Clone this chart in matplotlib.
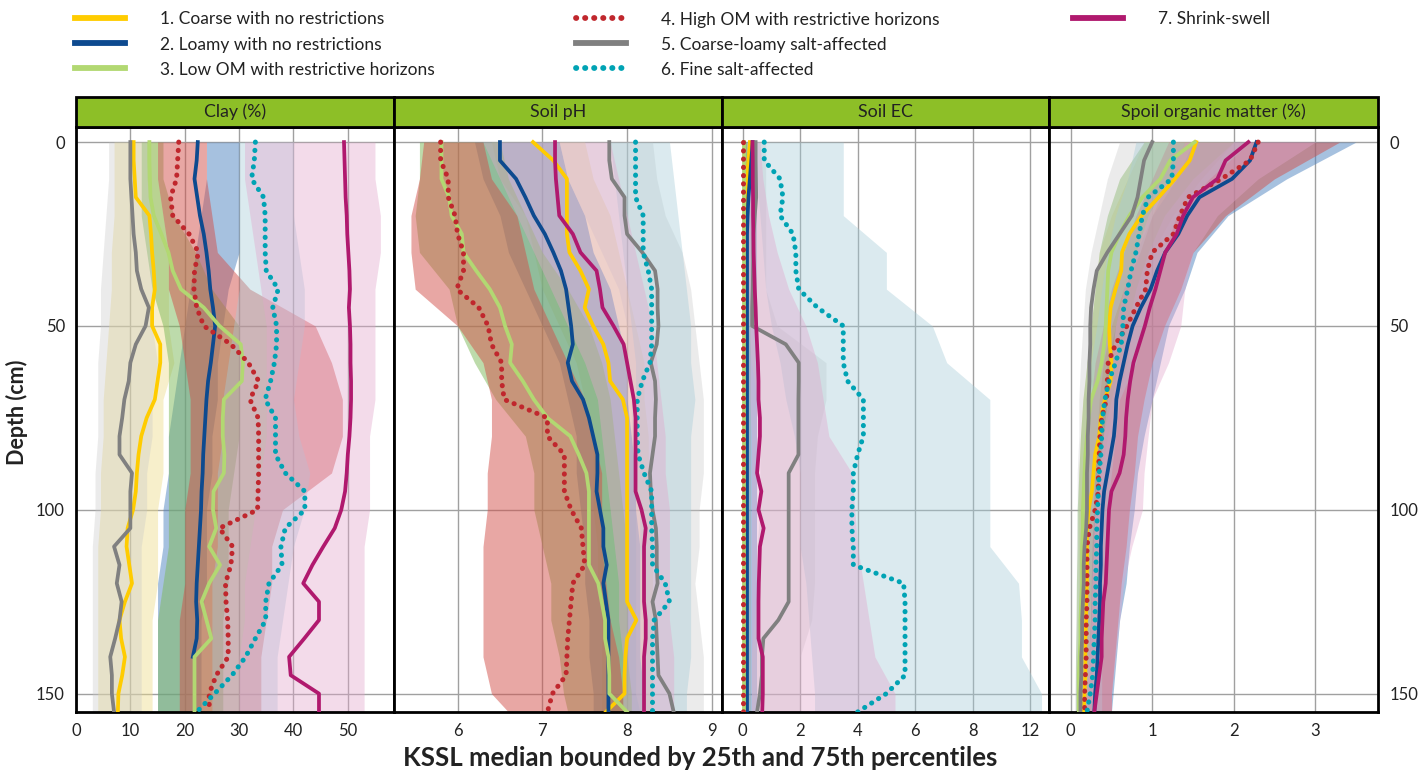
import matplotlib.pyplot as plt
from matplotlib.patches import Rectangle
from matplotlib.lines import Line2D
import numpy as np

plt.rcParams['font.family'] = ['Lato', 'DejaVu Sans']

# depths (cm) for medians and for the 25-75 percentile bands
depth = np.arange(0, 160, 5)
band_depth = np.array([0, 10, 20, 30, 40, 50, 60, 70, 80, 90, 100, 110, 120, 130, 140, 150, 155])

labels = ["1. Coarse with no restrictions", "2. Loamy with no restrictions",
          "3. Low OM with restrictive horizons", "4. High OM with restrictive horizons",
          "5. Coarse-loamy salt-affected", "6. Fine salt-affected", "7. Shrink-swell"]
line_colors = ['#FFCC00', '#0D4A8F', '#B2D872', '#C0272D', '#808080', '#00A3B4', '#B0196E']
band_colors = ['#EEDC8C', '#4F84C0', '#7DB858', '#D2504A', '#C8C8C8', '#A5CCD8', '#E2A6CC']
band_alpha = [0.45, 0.5, 0.5, 0.5, 0.35, 0.4, 0.4]
dotted = [False, False, False, True, False, True, False]
nan = np.nan

# ---------------- Clay (%) ----------------
clay_median = [
    [10.6, 10.6, 10.8, 11.0, 13.5, 13.8, 14.0, 14.3, 14.5, 14.0, 14.0, 15.5, 15.5, 15.0, 14.5, 13.0,
     12.0, 11.5, 11.2, 11.0, 10.5, 9.5, 9.3, 9.8, 10.3, 9.0, 8.0, 8.3, 9.0, 8.5, 7.8, 7.7],
    [22.4, 22.2, 21.8, 22.3, 22.8, 23.5, 24.0, 24.4, 24.7, 25.2, 25.6, 25.2, 24.8, 24.3, 24.0, 23.8,
     23.6, 23.4, 23.3, 23.1, 23.0, 22.8, 22.6, 22.4, 22.2, 22.1, 22.3, 22.2, 21.5, nan, nan, nan],
    [13.5, 13.5, 13.6, 13.7, 14.3, 15.7, 17.0, 17.8, 19.3, 23.5, 26.4, 30.3, 30.7, 30.5, 27.2, 27.0,
     27.0, 27.3, 27.2, 25.3, 25.2, 25.8, 24.5, 26.5, 24.5, 23.1, 24.0, 24.9, 21.8, 21.8, 21.8, 21.8],
    [18.9, 18.7, 18.5, 17.4, 17.8, 20.8, 22.5, 21.8, 21.7, 22.2, 23.5, 28.5, 31.7, 33.6, 32.0, 33.5,
     33.6, 33.6, 33.6, 33.5, 33.4, 26.4, 28.8, 28.5, 27.5, 27.6, 27.9, 28.0, 28.0, 25.8, 24.5, 24.5],
    [10.0, 10.0, 10.0, 10.2, 10.4, 10.6, 11.0, 11.2, 12.0, 13.4, 12.8, 11.0, 10.0, 9.7, 8.9, 8.5,
     8.0, 8.0, 10.3, 10.0, 10.0, 10.0, 7.0, 8.0, 7.5, 8.4, 8.0, 7.2, 6.3, 6.6, 6.6, 7.0],
    [33.0, 32.8, 32.3, 34.5, 34.8, 34.8, 34.8, 35.0, 37.2, 36.2, 36.9, 36.9, 36.5, 35.8, 34.8, 36.7,
     36.7, 36.7, 38.5, 42.1, 42.1, 38.5, 37.7, 37.9, 35.5, 34.9, 34.9, 33.0, 31.2, 28.7, 25.5, 22.2],
    [49.3, 49.4, 49.5, 49.6, 49.8, 49.9, 50.1, 50.3, 50.4, 50.2, 50.4, 50.5, 50.5, 50.6, 50.6, 50.5,
     50.3, 50.0, 49.8, 49.5, 48.8, 47.6, 45.5, 43.5, 41.8, 44.7, 44.7, 42.0, 39.2, 39.5, 44.7, 44.7],
]
clay_q25 = [
    [7, 7, 7, 6.5, 6.5, 6, 5.5, 5, 5, 4.5, 4.5, 4, 4, 4, 4, 4, 4],
    [24, 24, 23, 22, 21, 20, 19, 18, 17, 17, 16, 16, 15, 15, 15, 15, 15],
    [12, 12, 12, 13, 14, 16, 17, 17, 17, 17, 17, 17, 16, 15, 15, 15, 15],
    [15, 15, 16, 17, 17, 19, 20, 21, 21, 21, 20, 20, 20, 19, 19, 19, 19],
    [6, 6, 5.5, 5, 4.5, 4.5, 4, 4, 4, 3.5, 3.5, 3, 3, 3, 3, 3, 3],
    [30, 30, 30, 30, 30, 29, 28, 27, 27, 26, 26, 26, 25, 25, 25, 25, 25],
    [31, 31, 32, 33, 34, 35, 35, 35, 35, 34, 33, 32, 31, 31, 30, 30, 30],
]
clay_q75 = [
    [15, 15, 16, 17, 17, 17, 18, 16, 16, 16, 15, 15, 15, 14, 14, 14, 14],
    [30, 30, 30, 30, 28, 27, 26, 26, 25, 25, 24, 24, 24, 23, 23, 23, 23],
    [16, 16, 18, 22, 25, 30, 30, 30, 30, 29, 28, 28, 28, 27, 27, 27, 27],
    [24, 24, 25, 26, 32, 44, 47, 49, 49, 47, 38, 36, 36, 35, 34, 34, 34],
    [13, 13, 14, 14, 14, 14, 15, 14, 14, 13, 13, 12, 12, 12, 12, 12, 12],
    [40, 40, 40, 41, 42, 42, 41, 40, 41, 43, 42, 40, 39, 38, 37, 37, 37],
    [55, 55, 56, 56, 55, 55, 55, 55, 54, 54, 54, 53, 53, 53, 53, 53, 53],
]

# ---------------- Soil pH ----------------
ph_median = [
    [6.89, 7.13, 7.29, 7.29, 7.29, 7.29, 7.32, 7.45, 7.55, 7.5, 7.6, 7.72, 7.78, 7.8, 7.95, 8.0,
     8.0, 8.0, 8.0, 8.0, 8.0, 8.0, 8.0, 8.0, 8.0, 8.0, 8.11, 8.0, 7.98, 7.97, 7.97, 7.75],
    [6.5, 6.5, 6.69, 6.8, 6.9, 7.03, 7.13, 7.22, 7.28, 7.31, 7.34, 7.36, 7.3, 7.35, 7.48, 7.55,
     7.6, 7.65, 7.65, 7.64, 7.68, 7.72, 7.72, 7.76, 7.72, 7.75, 7.78, 7.78, 7.78, 7.78, 7.78, 7.78],
    [5.81, 5.81, 5.81, 5.9, 5.93, 6.05, 6.07, 6.22, 6.38, 6.5, 6.56, 6.64, 6.62, 6.77, 6.9, 7.06,
     7.33, 7.43, 7.52, 7.55, 7.55, 7.55, 7.55, 7.55, 7.66, 7.7, 7.74, 7.74, 7.78, 7.79, 7.79, 8.0],
    [5.8, 5.8, 5.89, 5.89, 5.97, 6.0, 6.07, 6.07, 5.99, 6.25, 6.36, 6.4, 6.52, 6.52, 6.55, 7.06,
     7.06, 7.26, 7.26, 7.26, 7.34, 7.46, 7.48, 7.5, 7.36, 7.34, 7.32, 7.3, 7.29, 7.28, 7.12, 7.06],
    [7.79, 7.79, 7.82, 7.97, 7.97, 8.0, 8.18, 8.33, 8.36, 8.36, 8.37, 8.35, 8.28, 8.33, 8.34, 8.33,
     8.33, 8.3, 8.27, 8.28, 8.3, 8.34, 8.35, 8.35, 8.36, 8.3, 8.34, 8.35, 8.36, 8.37, 8.5, 8.55],
    [8.1, 8.1, 8.1, 8.1, 8.19, 8.19, 8.19, 8.25, 8.29, 8.29, 8.29, 8.29, 8.27, 8.18, 8.12, 8.12,
     8.12, 8.13, 8.2, 8.29, 8.29, 8.29, 8.3, 8.3, 8.45, 8.5, 8.32, 8.3, 8.3, 8.3, 8.3, 8.3],
    [7.15, 7.15, 7.16, 7.18, 7.2, 7.36, 7.45, 7.64, 7.68, 7.71, 7.84, 7.96, 8.0, 8.04, 8.08, 8.1,
     8.1, 8.1, 8.1, 8.1, 8.17, 8.22, 8.2, 8.2, 8.2, 8.2, 8.22, 8.22, 8.2, 8.2, 8.2, 8.2],
]
ph_q25 = [
    [6.4, 6.5, 6.8, 6.9, 7.0, 7.2, 7.4, 7.5, 7.6, 7.6, 7.6, 7.65, 7.65, 7.7, 7.7, 7.7, 7.7],
    [6.2, 6.3, 6.5, 6.6, 6.8, 7.0, 7.2, 7.3, 7.4, 7.4, 7.45, 7.5, 7.5, 7.55, 7.55, 7.6, 7.6],
    [5.55, 5.55, 5.5, 5.55, 5.9, 6.0, 6.2, 6.45, 6.8, 6.9, 6.9, 7.0, 7.1, 7.1, 7.2, 7.25, 7.3],
    [5.6, 5.55, 5.45, 5.45, 5.5, 6.0, 6.3, 6.4, 6.4, 6.35, 6.35, 6.3, 6.3, 6.3, 6.3, 6.4, 6.6],
    [7.2, 7.3, 7.5, 7.7, 7.9, 8.0, 8.0, 8.05, 8.05, 8.1, 8.1, 8.1, 8.1, 8.1, 8.1, 8.1, 8.15],
    [7.8, 7.85, 7.9, 7.95, 8.0, 8.05, 8.1, 8.1, 8.1, 8.1, 8.15, 8.15, 8.2, 8.2, 8.2, 8.2, 8.2],
    [6.3, 6.5, 6.7, 6.9, 7.1, 7.3, 7.5, 7.65, 7.7, 7.75, 7.8, 7.85, 7.9, 7.9, 7.95, 7.95, 7.95],
]
ph_q75 = [
    [7.5, 7.6, 7.8, 7.9, 8.0, 8.1, 8.2, 8.2, 8.25, 8.25, 8.3, 8.3, 8.3, 8.3, 8.3, 8.3, 8.3],
    [7.2, 7.3, 7.5, 7.6, 7.8, 7.9, 8.0, 8.0, 8.05, 8.1, 8.1, 8.15, 8.15, 8.15, 8.15, 8.2, 8.2],
    [6.5, 6.6, 6.8, 7.0, 7.3, 7.55, 7.7, 7.8, 7.85, 7.9, 7.95, 8.0, 8.0, 8.0, 8.0, 8.05, 8.05],
    [6.3, 6.4, 6.7, 6.8, 6.9, 7.1, 7.3, 7.5, 7.6, 7.7, 7.7, 7.7, 7.75, 7.8, 7.9, 7.95, 7.95],
    [8.3, 8.35, 8.45, 8.65, 8.75, 8.8, 8.85, 8.9, 8.9, 8.9, 8.85, 8.85, 8.8, 8.85, 8.9, 8.9, 8.9],
    [8.5, 8.55, 8.6, 8.65, 8.7, 8.75, 8.75, 8.8, 8.75, 8.75, 8.75, 8.75, 8.75, 8.75, 8.75, 8.7, 8.7],
    [7.8, 7.9, 8.0, 8.1, 8.2, 8.3, 8.35, 8.4, 8.45, 8.45, 8.5, 8.5, 8.5, 8.5, 8.55, 8.55, 8.55],
]

# ---------------- Soil EC ----------------
ec_median = [
    [0.25, 0.2, 0.15, 0.12, 0.12, 0.12, 0.12, 0.12, 0.12, 0.12, 0.12, 0.12, 0.12, 0.12, 0.12, 0.12,
     0.12, 0.12, 0.12, 0.12, 0.12, 0.12, 0.12, 0.12, 0.12, 0.12, 0.12, 0.12, 0.12, 0.12, 0.12, 0.12],
    [0.35, 0.3, 0.25, 0.2, 0.17, 0.15, 0.15, 0.15, 0.15, 0.15, 0.15, 0.15, 0.15, 0.15, 0.15, 0.15,
     0.15, 0.15, 0.15, 0.15, 0.15, 0.15, 0.15, 0.15, 0.15, 0.15, 0.15, 0.15, 0.15, 0.15, 0.15, 0.15],
    [0.06, 0.06, 0.06, 0.06, 0.06, 0.06, 0.06, 0.06, 0.06, 0.06, 0.06, 0.06, 0.06, 0.06, 0.06, 0.06,
     0.06, 0.06, 0.06, 0.06, 0.06, 0.06, 0.06, 0.06, 0.06, 0.06, 0.06, 0.06, 0.06, 0.06, 0.06, 0.06],
    [0.02, 0.02, 0.02, 0.02, 0.02, 0.02, 0.02, 0.02, 0.02, 0.02, 0.02, 0.02, 0.02, 0.02, 0.02, 0.02,
     0.02, 0.02, 0.02, 0.02, 0.02, 0.02, 0.02, 0.02, 0.02, 0.02, 0.02, 0.02, 0.02, 0.02, 0.02, 0.02],
    [0.45, 0.45, 0.46, 0.47, 0.42, 0.38, 0.37, 0.36, 0.35, 0.33, 0.33, 1.5, 1.95, 1.95, 1.94, 1.94,
     1.94, 1.94, 1.6, 1.6, 1.6, 1.6, 1.6, 1.6, 1.6, 1.6, 1.24, 0.72, 0.67, 0.67, 0.6, 0.5],
    [0.75, 0.75, 1.3, 1.4, 1.3, 1.75, 1.85, 1.85, 1.95, 2.6, 3.5, 3.5, 3.5, 3.65, 4.2, 4.2,
     4.2, 4.0, 3.85, 3.85, 3.8, 3.8, 3.85, 3.85, 5.6, 5.65, 5.65, 5.65, 5.65, 5.65, 5.0, 4.0],
    [0.34, 0.35, 0.35, 0.36, 0.36, 0.37, 0.38, 0.4, 0.42, 0.45, 0.47, 0.5, 0.53, 0.55, 0.55, 0.6,
     0.6, 0.55, 0.5, 0.65, 0.55, 0.73, 0.6, 0.58, 0.56, 0.55, 0.55, 0.55, 0.7, 0.7, 0.7, 0.68],
]
ec_q25 = [
    [0.05, 0.05, 0.05, 0.05, 0.05, 0.05, 0.05, 0.05, 0.05, 0.05, 0.05, 0.05, 0.05, 0.05, 0.05, 0.05, 0.05],
    [0.1, 0.1, 0.1, 0.1, 0.1, 0.1, 0.1, 0.1, 0.1, 0.1, 0.1, 0.1, 0.1, 0.1, 0.1, 0.1, 0.1],
    [0.0, 0.0, 0.0, 0.0, 0.0, 0.0, 0.0, 0.0, 0.0, 0.0, 0.0, 0.0, 0.0, 0.0, 0.0, 0.0, 0.0],
    [0.0, 0.0, 0.0, 0.0, 0.0, 0.0, 0.0, 0.0, 0.0, 0.0, 0.0, 0.0, 0.0, 0.0, 0.0, 0.0, 0.0],
    [0.2, 0.2, 0.2, 0.2, 0.2, 0.2, 0.3, 0.5, 0.6, 0.6, 0.6, 0.5, 0.5, 0.4, 0.3, 0.3, 0.3],
    [0.4, 0.5, 0.6, 0.7, 0.8, 1.0, 1.3, 1.5, 1.8, 2.0, 2.0, 2.0, 2.2, 2.3, 2.4, 2.5, 2.5],
    [0.15, 0.15, 0.2, 0.2, 0.2, 0.25, 0.25, 0.25, 0.3, 0.3, 0.3, 0.3, 0.3, 0.3, 0.3, 0.3, 0.3],
]
ec_q75 = [
    [0.3, 0.3, 0.3, 0.3, 0.3, 0.3, 0.3, 0.3, 0.3, 0.3, 0.3, 0.3, 0.3, 0.3, 0.3, 0.3, 0.3],
    [0.5, 0.5, 0.5, 0.5, 0.5, 0.5, 0.5, 0.5, 0.5, 0.5, 0.5, 0.5, 0.5, 0.5, 0.5, 0.5, 0.5],
    [0.15, 0.15, 0.15, 0.15, 0.15, 0.15, 0.15, 0.15, 0.15, 0.15, 0.15, 0.15, 0.15, 0.15, 0.15, 0.15, 0.15],
    [0.1, 0.1, 0.1, 0.1, 0.1, 0.1, 0.1, 0.1, 0.1, 0.1, 0.1, 0.1, 0.1, 0.1, 0.1, 0.1, 0.1],
    [0.8, 0.8, 0.8, 0.8, 0.8, 1.2, 2.9, 2.9, 2.6, 2.5, 2.5, 2.5, 2.5, 2.4, 2.0, 2.0, 2.0],
    [3.5, 3.5, 3.5, 5.0, 5.0, 6.6, 7.1, 8.6, 8.6, 8.6, 8.6, 8.6, 9.6, 9.7, 9.7, 10.4, 10.4],
    [0.6, 0.7, 0.9, 1.2, 1.6, 2.2, 2.6, 2.8, 3.0, 3.8, 3.9, 4.0, 4.2, 4.4, 4.6, 5.3, 5.3],
]

# ---------------- Spoil organic matter (%) ----------------
om_median = [
    [1.54, 1.46, 1.28, 1.08, 0.87, 0.72, 0.63, 0.62, 0.55, 0.49, 0.47, 0.48, 0.5, 0.49, 0.42, 0.37,
     0.35, 0.3, 0.28, 0.26, 0.22, 0.2, 0.2, 0.2, 0.2, 0.19, 0.19, 0.18, 0.18, 0.18, 0.17, 0.16],
    [2.28, 2.2, 1.98, 1.58, 1.43, 1.32, 1.16, 1.06, 0.98, 0.86, 0.76, 0.7, 0.65, 0.6, 0.56, 0.55,
     0.53, 0.49, 0.45, 0.41, 0.39, 0.38, 0.37, 0.37, 0.36, 0.36, 0.35, 0.34, 0.33, 0.32, 0.3, 0.29],
    [1.52, 1.22, 1.1, 0.88, 0.72, 0.6, 0.5, 0.46, 0.45, 0.44, 0.43, 0.41, 0.38, 0.33, 0.25, 0.22,
     0.2, 0.18, 0.17, 0.16, 0.15, 0.15, 0.14, 0.14, 0.14, 0.13, 0.12, 0.12, 0.11, 0.1, 0.1, 0.1],
    [2.3, 2.2, 1.85, 1.44, 1.34, 1.26, 1.0, 0.94, 0.92, 0.8, 0.69, 0.55, 0.46, 0.45, 0.44, 0.38,
     0.36, 0.35, 0.34, 0.34, 0.3, 0.23, 0.2, 0.2, 0.2, 0.2, 0.19, 0.19, 0.19, 0.18, 0.17, 0.17],
    [1.0, 0.9, 0.86, 0.82, 0.75, 0.6, 0.45, 0.32, 0.28, 0.25, 0.24, 0.24, 0.23, 0.23, 0.22, 0.22,
     0.21, 0.21, 0.2, 0.2, 0.2, 0.19, 0.17, 0.16, 0.16, 0.15, 0.14, 0.14, 0.13, 0.13, 0.12, 0.12],
    [1.26, 1.26, 1.24, 0.95, 0.88, 0.84, 0.8, 0.74, 0.7, 0.65, 0.64, 0.62, 0.55, 0.47, 0.42, 0.39,
     0.38, 0.37, 0.35, 0.34, 0.33, 0.32, 0.32, 0.31, 0.31, 0.3, 0.3, 0.29, 0.28, 0.27, 0.24, 0.2],
    [2.18, 1.9, 1.8, 1.5, 1.38, 1.3, 1.16, 1.1, 1.04, 0.97, 0.91, 0.84, 0.77, 0.73, 0.7, 0.68,
     0.67, 0.65, 0.6, 0.5, 0.47, 0.46, 0.45, 0.44, 0.43, 0.4, 0.39, 0.38, 0.38, 0.35, 0.32, 0.29],
]
om_q25 = [
    [0.9, 0.7, 0.5, 0.35, 0.3, 0.25, 0.2, 0.15, 0.12, 0.1, 0.1, 0.1, 0.1, 0.1, 0.1, 0.1, 0.1],
    [1.5, 1.3, 1.0, 0.8, 0.65, 0.55, 0.45, 0.4, 0.35, 0.3, 0.28, 0.26, 0.25, 0.24, 0.22, 0.2, 0.2],
    [0.9, 0.6, 0.45, 0.35, 0.3, 0.25, 0.2, 0.15, 0.12, 0.1, 0.08, 0.08, 0.07, 0.07, 0.06, 0.06, 0.06],
    [1.2, 1.0, 0.8, 0.65, 0.5, 0.4, 0.3, 0.25, 0.22, 0.2, 0.15, 0.13, 0.12, 0.1, 0.1, 0.1, 0.1],
    [0.6, 0.45, 0.35, 0.25, 0.18, 0.15, 0.12, 0.1, 0.1, 0.08, 0.08, 0.07, 0.07, 0.06, 0.06, 0.05, 0.05],
    [0.8, 0.7, 0.55, 0.45, 0.38, 0.32, 0.25, 0.2, 0.18, 0.17, 0.15, 0.15, 0.15, 0.14, 0.14, 0.13, 0.13],
    [1.4, 1.2, 0.95, 0.8, 0.65, 0.55, 0.5, 0.45, 0.4, 0.35, 0.3, 0.28, 0.26, 0.25, 0.22, 0.2, 0.2],
]
om_q75 = [
    [2.0, 1.6, 1.25, 1.0, 0.85, 0.75, 0.7, 0.55, 0.45, 0.38, 0.33, 0.3, 0.3, 0.28, 0.27, 0.26, 0.25],
    [3.5, 2.65, 1.93, 1.55, 1.4, 1.2, 1.1, 1.0, 0.9, 0.82, 0.78, 0.72, 0.68, 0.6, 0.56, 0.52, 0.5],
    [2.0, 1.5, 1.15, 0.95, 0.8, 0.7, 0.6, 0.5, 0.4, 0.32, 0.28, 0.26, 0.25, 0.23, 0.22, 0.2, 0.2],
    [3.3, 2.5, 1.9, 1.5, 1.35, 1.15, 1.0, 0.9, 0.82, 0.78, 0.72, 0.68, 0.62, 0.58, 0.54, 0.5, 0.5],
    [1.4, 1.2, 1.0, 0.85, 0.65, 0.5, 0.4, 0.35, 0.32, 0.3, 0.28, 0.26, 0.25, 0.24, 0.22, 0.2, 0.2],
    [2.2, 1.7, 1.3, 1.15, 1.0, 0.9, 0.8, 0.6, 0.55, 0.5, 0.45, 0.42, 0.4, 0.4, 0.38, 0.38, 0.38],
    [3.0, 2.3, 1.8, 1.5, 1.4, 1.35, 1.2, 1.0, 0.95, 0.9, 0.88, 0.75, 0.65, 0.6, 0.55, 0.5, 0.5],
]

titles = ["Clay (%)", "Soil pH", "Soil EC", "Spoil organic matter (%)"]
medians = [clay_median, ph_median, ec_median, om_median]
q25s = [clay_q25, ph_q25, ec_q25, om_q25]
q75s = [clay_q75, ph_q75, ec_q75, om_q75]
xlims = [(0, 58.5), (5.25, 9.12), (-0.72, 10.66), (-0.266, 3.77)]
xticks = [[0, 10, 20, 30, 40, 50], [6, 7, 8, 9], [0, 2, 4, 6, 8, 10], [0, 1, 2, 3]]
xticklabels = [["0", "10", "20", "30", "40", "50"], ["6", "7", "8", "9"],
               ["0", "2", "4", "6", "8", "12"], ["0", "1", "2", "3"]]

W, H = 1427, 772
fig = plt.figure(figsize=(W / 100, H / 100), dpi=100)
edges = [76, 394, 722, 1049, 1378]
top, bottom = 127, 712
head_h = 30 / (bottom - top)

for i in range(4):
    ax = fig.add_axes([edges[i] / W, (H - bottom) / H, (edges[i + 1] - edges[i]) / W, (bottom - top) / H])
    for k in range(7):
        ax.fill_betweenx(band_depth, q25s[i][k], q75s[i][k],
                         color=band_colors[k], alpha=band_alpha[k], lw=0, zorder=1)
    for k in range(7):
        if dotted[k]:
            ax.plot(medians[i][k], depth, color=line_colors[k], lw=3.6,
                    linestyle=(0, (0.05, 1.6)), dash_capstyle='round', zorder=3)
        else:
            ax.plot(medians[i][k], depth, color=line_colors[k], lw=2.7, zorder=3)
    ax.set_xlim(*xlims[i])
    ax.set_ylim(155, -4.1)
    ax.set_xticks(xticks[i])
    ax.set_xticklabels(xticklabels[i])
    ax.set_yticks([0, 50, 100, 150])
    ax.grid(True, color='#A0A0A0', lw=1)
    ax.set_axisbelow(True)
    ax.tick_params(length=0, labelsize=12, colors='#222222', pad=8)
    if i == 0:
        ax.tick_params(axis='y', labelleft=True, labelright=False)
    elif i == 3:
        ax.tick_params(axis='y', labelleft=False, labelright=True)
    else:
        ax.tick_params(axis='y', labelleft=False)
    for s in ax.spines.values():
        s.set_linewidth(2)
        s.set_color('black')
    ax.add_patch(Rectangle((0, 1), 1, head_h, transform=ax.transAxes, facecolor='#8DBF27',
                           edgecolor='black', lw=2, clip_on=False, zorder=5))
    ax.text(0.5, 1 + head_h / 2, titles[i], transform=ax.transAxes, ha='center', va='center',
            fontsize=12.8, color='#222222', zorder=6)

fig.text(0.012, 0.466, "Depth (cm)", rotation=90, ha='center', va='center',
         fontsize=15.5, fontweight='bold', color='#222222')
fig.text(0.491, 0.018, "KSSL median bounded by 25th and 75th percentiles", ha='center',
         va='center', fontsize=18.5, fontweight='bold', color='#222222')

handles = []
for k in range(7):
    if dotted[k]:
        handles.append(Line2D([], [], color=line_colors[k], lw=4.2, linestyle=(0, (0.05, 1.5)),
                              dash_capstyle='round'))
    else:
        handles.append(Line2D([], [], color=line_colors[k], lw=4.2))
for cols, x0 in [((0, 3), 75), ((3, 6), 576), ((6, 7), 1073)]:
    leg = fig.legend(handles[cols[0]:cols[1]], labels[cols[0]:cols[1]], loc='upper left',
                     bbox_to_anchor=(x0 / W, 1 - 11.5 / H), frameon=False, fontsize=12.5,
                     handlelength=2.9, handletextpad=2.0, labelspacing=0.52,
                     borderpad=0, borderaxespad=0)
    for t in leg.get_texts():
        t.set_color('#222222')

fig.savefig('out.png', dpi=100)
